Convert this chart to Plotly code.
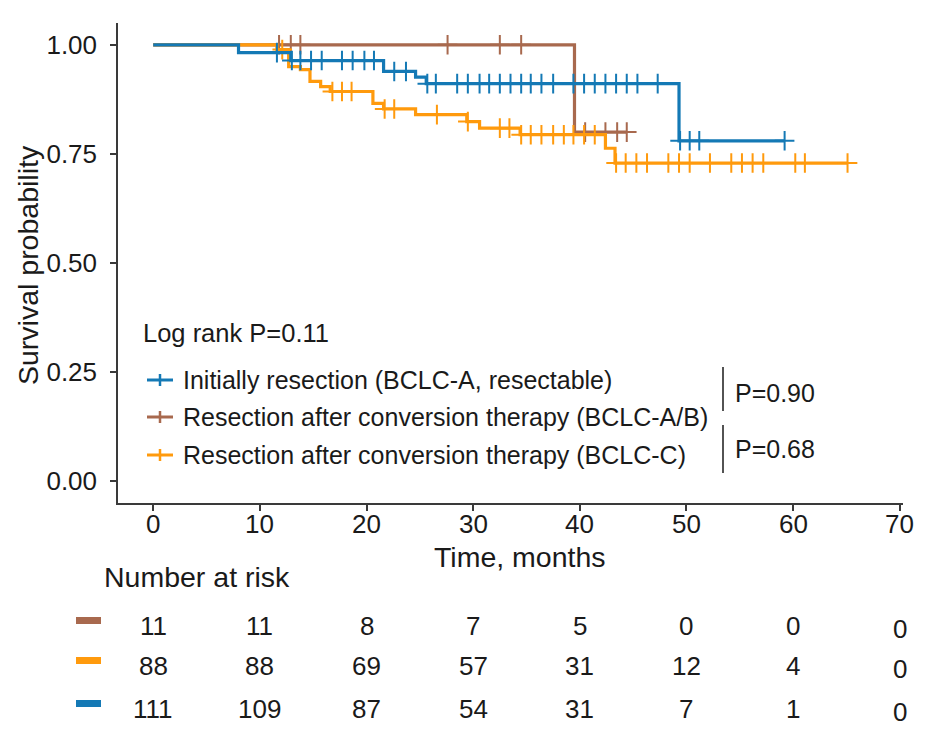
import numpy as np
import plotly.graph_objects as go

# ---------------- data ----------------
blue_name = "Initially resection (BCLC-A, resectable)"
brown_name = "Resection after conversion therapy (BCLC-A/B)"
orange_name = "Resection after conversion therapy (BCLC-C)"

blue_event_t = [8.0, 12.9, 21.6, 24.6, 25.6, 49.3]
blue_surv = [0.982, 0.964, 0.939, 0.926, 0.911, 0.780]
blue_end = 59.2
blue_censor_t = [11.6, 13.0, 13.8, 14.8, 15.8, 17.7, 18.7, 19.8, 20.7, 22.6, 23.7,
                 25.7, 26.5, 28.5, 29.5, 30.6, 31.5, 32.5, 33.5, 34.5, 35.4, 36.4,
                 37.5, 39.4, 40.4, 41.4, 42.4, 43.4, 44.4, 45.4, 47.3, 49.4, 50.3,
                 51.2, 59.2]

brown_event_t = [39.5]
brown_surv = [0.80]
brown_end = 44.4
brown_censor_t = [11.8, 12.9, 13.8, 27.6, 32.5, 34.5, 40.5, 42.4, 43.5, 44.4]

orange_event_t = [11.6, 12.7, 13.8, 14.7, 15.7, 16.6, 20.6, 21.6, 24.6, 29.4, 30.6,
                  34.4, 42.4, 43.3]
orange_surv = [0.989, 0.950, 0.943, 0.916, 0.904, 0.893, 0.866, 0.853, 0.840, 0.824,
               0.809, 0.794, 0.763, 0.729]
orange_end = 65.1
orange_censor_t = [12.1, 16.8, 17.7, 18.6, 21.7, 22.6, 26.6, 29.5, 32.5, 33.4, 34.5,
                   35.4, 36.4, 37.5, 38.5, 39.4, 40.4, 41.4, 43.4, 44.3, 45.3, 46.3,
                   48.3, 49.3, 50.3, 52.2, 54.2, 55.2, 56.2, 57.2, 60.2, 61.1, 65.1]

risk_times = [0, 10, 20, 30, 40, 50, 60, 70]
risk_brown = [11, 11, 8, 7, 5, 0, 0, 0]
risk_orange = [88, 88, 69, 57, 31, 12, 4, 0]
risk_blue = [111, 109, 87, 54, 31, 7, 1, 0]

x_ticks = [0, 10, 20, 30, 40, 50, 60, 70]
x_tick_text = ["0", "10", "20", "30", "40", "50", "60", "70"]
y_ticks = [0.0, 0.25, 0.50, 0.75, 1.00]
y_tick_text = ["0.00", "0.25", "0.50", "0.75", "1.00"]

log_rank_text = "Log rank P=0.11"
p_texts = ["P=0.90", "P=0.68"]

# ---------------- style ----------------
BLUE = "#1479B5"
BROWN = "#A8694E"
ORANGE = "#FF9A0D"
AX = "#3a3a3a"
TXT = "#1a1a1a"
FONT = "Liberation Sans, Arial, sans-serif"

# page has an 8px body margin; figure is sized so plot area lands at window px 118..903 x 23..503
W, H = 921, 728
L, R, T, B = 110, 26, 15, 233
PW, PH = W - L - R, H - T - B
WIN_L, WIN_B = 118, 503


def px_x(px):
    return (px - WIN_L) / PW


def px_y(py):
    return (WIN_B - py) / PH


def step_xy(ev_t, surv, end):
    xs = [0.0] + list(ev_t) + [end]
    ys = [1.0] + list(surv) + [surv[-1]]
    return xs, ys


def surv_at(t, ev_t, surv):
    idx = np.searchsorted(np.array(ev_t), t, side="right")
    return 1.0 if idx == 0 else surv[idx - 1]


fig = go.Figure()

groups = [
    (brown_event_t, brown_surv, brown_end, brown_censor_t, BROWN, brown_name),
    (orange_event_t, orange_surv, orange_end, orange_censor_t, ORANGE, orange_name),
    (blue_event_t, blue_surv, blue_end, blue_censor_t, BLUE, blue_name),
]

for ev, sv, end, cens, col, name in groups:
    xs, ys = step_xy(ev, sv, end)
    fig.add_trace(go.Scatter(x=xs, y=ys, mode="lines", line=dict(color=col, width=3.2, shape="hv"),
                             name=name, showlegend=False, hoverinfo="skip"))
    cy = [surv_at(t, ev, sv) for t in cens]
    fig.add_trace(go.Scatter(x=cens, y=cy, mode="markers",
                             marker=dict(symbol="cross-thin", size=14, line=dict(color=col, width=2)),
                             showlegend=False, hoverinfo="skip"))

anns = []
shapes = []

# x tick labels
for t, lab in zip(x_ticks, x_tick_text):
    anns.append(dict(text=lab, xref="x", yref="paper", x=t, y=px_y(524), showarrow=False,
                     font=dict(size=26, color=TXT, family=FONT), xanchor="center", yanchor="middle"))

# y title
anns.append(dict(text="Survival probability", xref="paper", yref="paper", x=px_x(28), y=px_y(265),
                 textangle=-90, showarrow=False, font=dict(size=28.5, color=TXT, family=FONT),
                 xanchor="center", yanchor="middle"))
# x title
anns.append(dict(text="Time, months", xref="paper", yref="paper", x=px_x(520), y=px_y(557),
                 showarrow=False, font=dict(size=28.5, color=TXT, family=FONT),
                 xanchor="center", yanchor="middle"))

# legend block
anns.append(dict(text=log_rank_text, xref="paper", yref="paper", x=px_x(141), y=px_y(333),
                 showarrow=False, font=dict(size=25.5, color=TXT, family=FONT),
                 xanchor="left", yanchor="middle"))
leg_rows = [(blue_name, BLUE, 380), (brown_name, BROWN, 417), (orange_name, ORANGE, 455)]
for name, col, yy in leg_rows:
    anns.append(dict(text=name, xref="paper", yref="paper", x=px_x(181), y=px_y(yy),
                     showarrow=False, font=dict(size=25, color=TXT, family=FONT),
                     xanchor="left", yanchor="middle"))
    shapes.append(dict(type="line", xref="paper", yref="paper", x0=px_x(147), x1=px_x(173),
                       y0=px_y(yy), y1=px_y(yy), line=dict(color=col, width=3)))
    shapes.append(dict(type="line", xref="paper", yref="paper", x0=px_x(160), x1=px_x(160),
                       y0=px_y(yy - 6), y1=px_y(yy + 6), line=dict(color=col, width=2.5)))

# p-value brackets
for (y0, y1, yt), txt in zip([(367, 411, 393), (425, 473, 449)], p_texts):
    shapes.append(dict(type="line", xref="paper", yref="paper", x0=px_x(723), x1=px_x(723),
                       y0=px_y(y0), y1=px_y(y1), line=dict(color=TXT, width=1.5)))
    anns.append(dict(text=txt, xref="paper", yref="paper", x=px_x(733), y=px_y(yt),
                     showarrow=False, font=dict(size=25, color=TXT, family=FONT),
                     xanchor="left", yanchor="middle"))

# risk table
anns.append(dict(text="Number at risk", xref="paper", yref="paper", x=px_x(102), y=px_y(577),
                 showarrow=False, font=dict(size=28.5, color=TXT, family=FONT),
                 xanchor="left", yanchor="middle"))
risk_rows = [(risk_brown, BROWN, 626), (risk_orange, ORANGE, 666), (risk_blue, BLUE, 709)]
for vals, col, yy in risk_rows:
    shapes.append(dict(type="rect", xref="paper", yref="paper", x0=px_x(76), x1=px_x(101),
                       y0=px_y(yy - 9), y1=px_y(yy - 2), fillcolor=col, line=dict(width=0)))
    for t, v in zip(risk_times, vals):
        anns.append(dict(text=str(v), xref="x", yref="paper", x=t, y=px_y(yy + (3 if t == 70 else 0)),
                         showarrow=False, font=dict(size=26, color=TXT, family=FONT),
                         xanchor="center", yanchor="middle"))

fig.update_layout(
    width=W, height=H,
    margin=dict(l=L, r=R, t=T, b=B),
    paper_bgcolor="white", plot_bgcolor="white",
    font=dict(family=FONT, color=TXT),
    annotations=anns, shapes=shapes,
    showlegend=False,
)
fig.update_xaxes(range=[-3.3, 70.3], tickvals=x_ticks, showticklabels=False, ticks="outside",
                 ticklen=6, tickwidth=1.5, tickcolor=AX, showline=True, linecolor=AX,
                 linewidth=1.5, showgrid=False, zeroline=False)
fig.update_yaxes(range=[-0.05, 1.05], tickvals=y_ticks, ticktext=y_tick_text, ticks="outside",
                 ticklen=6, tickwidth=1.5, tickcolor=AX, showline=True, linecolor=AX,
                 linewidth=1.5, showgrid=False, zeroline=False, ticklabelstandoff=8,
                 tickfont=dict(size=26, color=TXT, family=FONT))

fig.write_html("out.html")
